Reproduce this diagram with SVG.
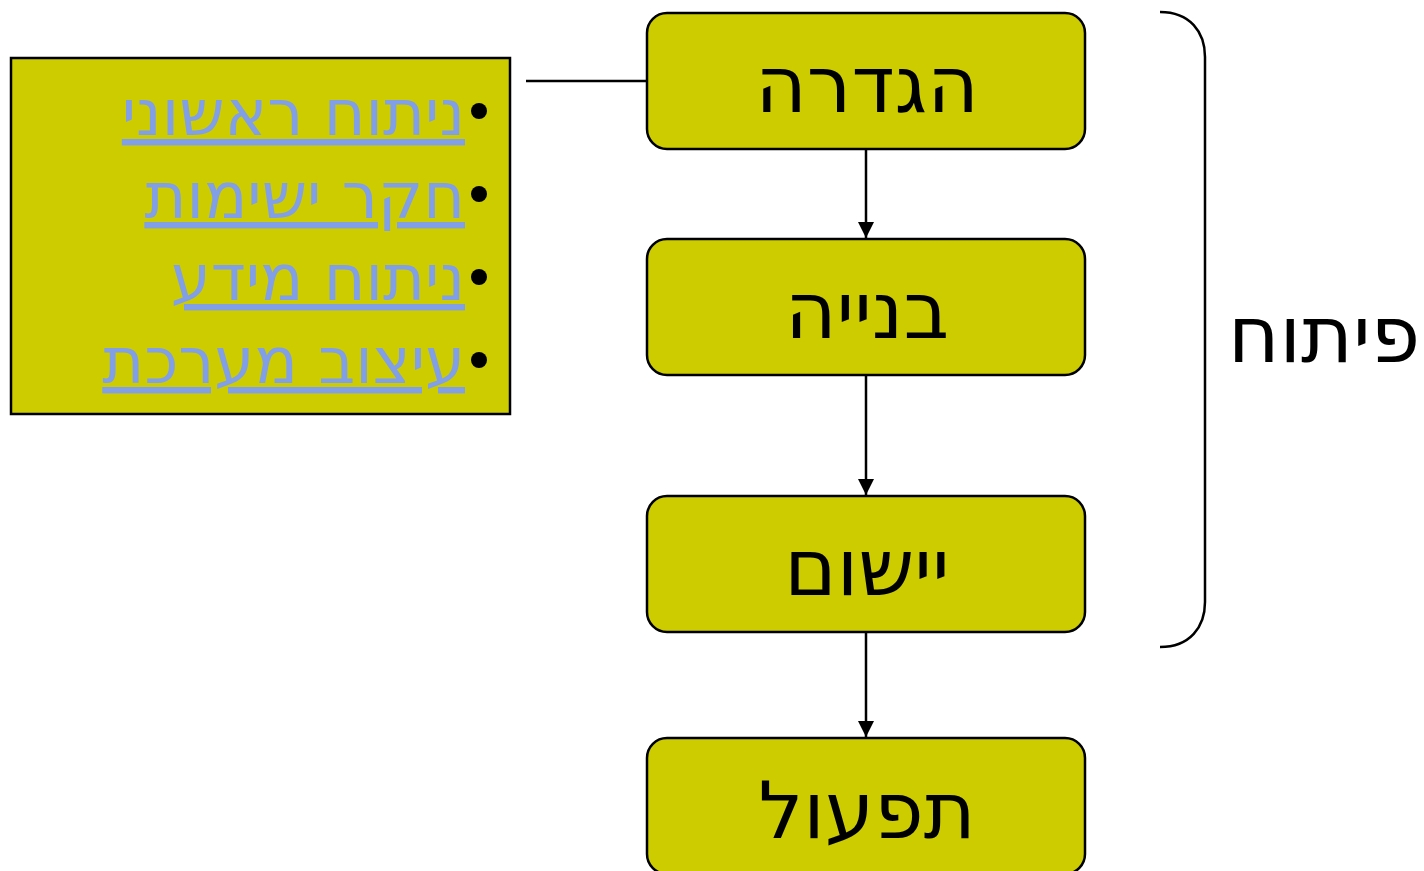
<svg xmlns="http://www.w3.org/2000/svg" width="1424" height="871" viewBox="0 0 1424 871">
<style>
.box{fill:#CCCC00;stroke:#000;stroke-width:2.5}
.lbl{font-family:"DejaVu Sans",sans-serif;font-size:79px;fill:#000;text-anchor:middle}
.item{font-family:"DejaVu Sans",sans-serif;font-size:64px;fill:#809FE6;text-anchor:end;text-decoration:underline;text-decoration-thickness:5px}
.conn{stroke:#000;stroke-width:2.5;fill:none}
</style>
<defs>
<marker id="arr" viewBox="0 0 10 10" refX="10" refY="5" markerWidth="16" markerHeight="16" markerUnits="userSpaceOnUse" orient="auto">
<path d="M0,0 L10,5 L0,10 z" fill="#000"/>
</marker>
</defs>
<rect width="1424" height="871" fill="#fff"/>
<g id="connectors">
<line class="conn" x1="866" y1="149" x2="866" y2="238" marker-end="url(#arr)"/>
<line class="conn" x1="866" y1="375" x2="866" y2="495" marker-end="url(#arr)"/>
<line class="conn" x1="866" y1="632" x2="866" y2="737" marker-end="url(#arr)"/>
<line class="conn" x1="526" y1="81" x2="647" y2="81"/>
</g>
<g id="details">
<rect x="11" y="58" width="499" height="356" style="fill:#CCCC00;stroke:#000;stroke-width:2.5"/>
<circle cx="479" cy="111" r="8" fill="#000"/>
<circle cx="479" cy="194" r="8" fill="#000"/>
<circle cx="479" cy="277" r="8" fill="#000"/>
<circle cx="479" cy="360" r="8" fill="#000"/>
<text class="item" x="465" y="135">ניתוח ראשוני</text>
<text class="item" x="465" y="218">חקר ישימות</text>
<text class="item" x="465" y="300">ניתוח מידע</text>
<text class="item" x="465" y="383">עיצוב מערכת</text>
</g>
<g id="n1"><rect class="box" x="647" y="13" width="438" height="136" rx="20"/><text class="lbl" x="867" y="112">הגדרה</text></g>
<g id="n2"><rect class="box" x="647" y="239" width="438" height="136" rx="20"/><text class="lbl" x="867" y="338">בנייה</text></g>
<g id="n3"><rect class="box" x="647" y="496" width="438" height="136" rx="20"/><text class="lbl" x="867" y="595">יישום</text></g>
<g id="n4"><rect class="box" x="647" y="738" width="438" height="136" rx="20"/><text class="lbl" x="867" y="838">תפעול</text></g>
<g id="brace">
<path class="conn" d="M1160,12 C1190,12 1205,32 1205,57 L1205,602 C1205,627 1190,647 1160,647"/>
<text x="1420" y="362" style="font-family:'DejaVu Sans',sans-serif;font-size:79px;fill:#000;text-anchor:end">פיתוח</text>
</g>
</svg>
